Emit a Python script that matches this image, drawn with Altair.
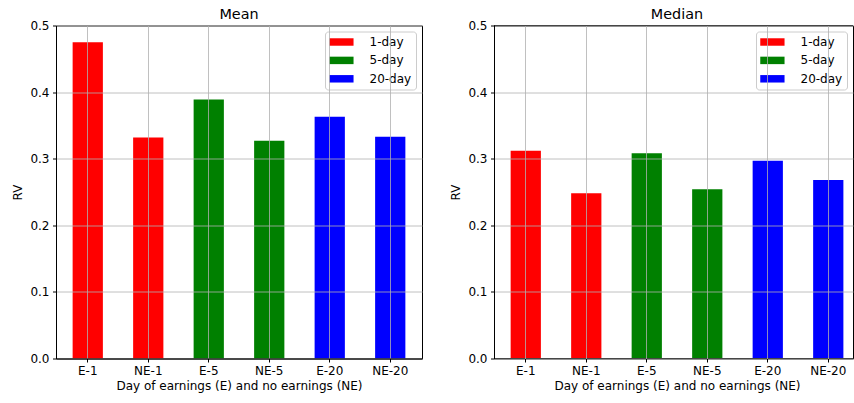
import altair as alt
import pandas as pd

# Realized volatility on earnings days (E) vs. non-earnings days (NE)
categories = ["E-1", "NE-1", "E-5", "NE-5", "E-20", "NE-20"]
horizons = ["1-day", "1-day", "5-day", "5-day", "20-day", "20-day"]
mean_rv = [0.475, 0.332, 0.389, 0.327, 0.363, 0.333]
median_rv = [0.312, 0.248, 0.308, 0.254, 0.297, 0.268]

horizon_order = ["1-day", "5-day", "20-day"]
horizon_colors = ["#ff0000", "#008000", "#0000ff"]
y_ticks = [0.0, 0.1, 0.2, 0.3, 0.4, 0.5]

FONT = "DejaVu Sans"
PLOT_H = 333


def make_panel(values, title, width, x_scale, frame=True, center_shift=0.0):
    df = pd.DataFrame({"category": categories, "horizon": horizons, "rv": values})

    x_axis = dict(
        labelAngle=0,
        grid=True,
        bandPosition=0.5,
        domain=frame,
        zindex=1,
        titlePadding=4,
    )
    if center_shift:
        x_axis["titleX"] = width / 2 + center_shift

    bars = alt.Chart(df).mark_bar().encode(
        x=alt.X(
            "category:N",
            sort=categories,
            title="Day of earnings (E) and no earnings (NE)",
            scale=alt.Scale(**x_scale),
            axis=alt.Axis(**x_axis),
        ),
        y=alt.Y(
            "rv:Q",
            title="RV",
            scale=alt.Scale(domain=[0, 0.5], nice=False),
            axis=alt.Axis(values=y_ticks, format=".1f", zindex=1, titlePadding=5),
        ),
        color=alt.Color(
            "horizon:N",
            scale=alt.Scale(domain=horizon_order, range=horizon_colors),
            legend=alt.Legend(
                title=None,
                orient="top-right",
                offset=6,
                padding=4,
                fillColor="rgba(255,255,255,0.8)",
                strokeColor="#cccccc",
                cornerRadius=3,
                symbolType="M-1.92,-0.59H1.92V0.59H-1.92Z",
                symbolSize=160,
                symbolStrokeWidth=0,
                symbolOpacity=1,
                symbolOffset=5.9,
                labelOffset=21.6,
                labelAlign="left",
                rowPadding=5.4,
                labelFontSize=12,
                labelFont=FONT,
                labelColor="black",
            ),
        ),
    )

    if frame:
        chart = bars
    else:
        # top and bottom spines as rules; the right spine falls outside the canvas
        spines = pd.DataFrame({"level": [0.0, 0.5]})
        rules = alt.Chart(spines).mark_rule(color="black", strokeWidth=1).encode(
            y=alt.Y("level:Q")
        )
        chart = alt.layer(bars, rules)

    chart = chart.properties(
        width=width,
        height=PLOT_H,
        title=alt.Title(
            title,
            fontSize=14.4,
            fontWeight="normal",
            offset=-2.5,
            dx=center_shift,
            font=FONT,
            color="black",
        ),
    )
    return chart


left = make_panel(
    mean_rv, "Mean", 366,
    dict(paddingInner=0.5, paddingOuter=0.275),
    frame=True,
)
# the right panel runs past the canvas edge: keep the same band step, shift bands right
right = make_panel(
    median_rv, "Median", 359,
    dict(paddingInner=0.5, paddingOuter=0.217, align=0.634),
    frame=False,
    center_shift=3.5,
)

chart = (
    alt.hconcat(left, right, spacing=26)
    .resolve_scale(color="independent")
    .resolve_legend(color="independent")
    .properties(padding={"left": 11, "top": 5.5, "right": 0, "bottom": 3})
    .configure(font=FONT)
    .configure_view(stroke="black", strokeWidth=1)
    .configure_axis(
        labelFont=FONT,
        titleFont=FONT,
        labelFontSize=12,
        titleFontSize=12,
        titleFontWeight="normal",
        labelColor="black",
        titleColor="black",
        tickColor="black",
        tickSize=3.5,
        tickWidth=1,
        labelPadding=3.5,
        domainColor="black",
        domainWidth=1,
        gridColor="#b0b0b0",
        gridWidth=0.8,
    )
)

chart.save("out.html", embed_options={"renderer": "svg", "actions": False})
